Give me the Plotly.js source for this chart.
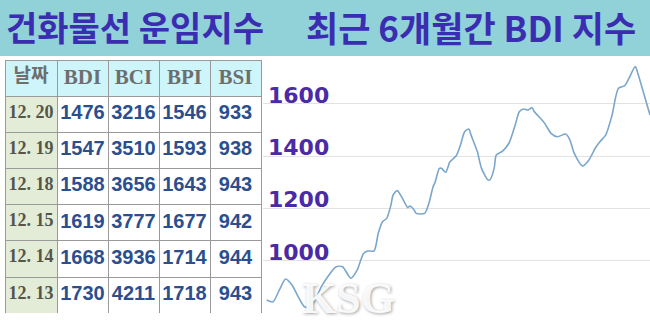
<!DOCTYPE html>
<html>
<head>
<meta charset="utf-8">
<script src="https://cdn.plot.ly/plotly-3.0.1.min.js"></script>
<style>html,body{margin:0;padding:0;background:#fff;}#chart{width:650px;height:320px;}</style>
</head>
<body>
<div id="chart"></div>
<script>
// ---- table data ----
const tableHeader = ["날짜", "BDI", "BCI", "BPI", "BSI"];
const tableDates = ["12. 20", "12. 19", "12. 18", "12. 15", "12. 14", "12. 13"];
const bdiVals = [1476, 1547, 1588, 1619, 1668, 1730];
const bciVals = [3216, 3510, 3656, 3777, 3936, 4211];
const bpiVals = [1546, 1593, 1643, 1677, 1714, 1718];
const bsiVals = [933, 938, 943, 942, 944, 943];

// ---- 6-month BDI line ----
const lineDates = ["2017-06-20","2017-06-23","2017-06-26","2017-06-29","2017-07-02","2017-07-05","2017-07-08","2017-07-11","2017-07-13","2017-07-16",
"2017-07-19","2017-07-23","2017-07-26","2017-07-30","2017-08-02","2017-08-05","2017-08-07","2017-08-10","2017-08-12","2017-08-14",
"2017-08-16","2017-08-18","2017-08-19","2017-08-21","2017-08-23","2017-08-26","2017-08-27","2017-08-29","2017-08-30","2017-09-03",
"2017-09-05","2017-09-07","2017-09-08","2017-09-10","2017-09-11","2017-09-13","2017-09-15","2017-09-18","2017-09-20","2017-09-22",
"2017-09-24","2017-09-25","2017-09-28","2017-09-30","2017-10-03","2017-10-04","2017-10-06","2017-10-07","2017-10-09","2017-10-10",
"2017-10-13","2017-10-16","2017-10-18","2017-10-20","2017-10-22","2017-10-24","2017-10-25","2017-10-28","2017-10-30","2017-11-02",
"2017-11-05","2017-11-09","2017-11-11","2017-11-13","2017-11-17","2017-11-20","2017-11-23","2017-11-25","2017-11-28","2017-12-01",
"2017-12-04","2017-12-07","2017-12-09","2017-12-12","2017-12-13","2017-12-16","2017-12-19"];
const lineValues = [851,844,889,931,908,863,825,823,851,902,
940,978,978,934,966,1029,1038,1039,1107,1150,
1163,1214,1252,1269,1246,1204,1210,1195,1182,1182,
1220,1284,1302,1354,1354,1339,1379,1402,1443,1494,
1504,1482,1418,1354,1310,1310,1354,1405,1415,1420,
1450,1520,1571,1581,1577,1586,1571,1545,1526,1488,
1475,1485,1462,1412,1363,1386,1431,1454,1482,1558,
1660,1670,1698,1743,1723,1641,1558];
const yTicks = [1000, 1200, 1400, 1600];

const titleLeft = "건화물선 운임지수";
const titleRight = "최근 6개월간 BDI 지수";

const W = 650, H = 320;
const px = x => x / W;
const py = y => 1 - y / H;

const nb = v => String(v).replace(/ /g, "\u00a0");

const tableTrace = {
  type: "table",
  domain: { x: [px(5), px(262)], y: [py(313), py(60)] },
  columnwidth: [52, 51, 51, 51, 51],
  header: {
    values: tableHeader.map(nb),
    height: 36,
    align: "center",
    fill: { color: "#cdf5fa" },
    line: { color: "#9a9a9a", width: 1 },
    font: {
      family: ["Noto Sans CJK KR", "Liberation Serif", "Liberation Serif", "Liberation Serif", "Liberation Serif"],
      size: [19, 21, 21, 21, 21],
      color: "#6e6e6e",
      weight: "bold"
    }
  },
  cells: {
    values: [tableDates.map(nb), bdiVals.map(nb), bciVals.map(nb), bpiVals.map(nb), bsiVals.map(nb)],
    height: 36.2,
    align: "center",
    fill: { color: ["#e3ecd7", "#ffffff", "#ffffff", "#ffffff", "#ffffff"] },
    line: { color: "#9a9a9a", width: 1 },
    font: {
      family: ["Liberation Serif", "Liberation Sans", "Liberation Sans", "Liberation Sans", "Liberation Sans"],
      size: [18, 20, 20, 20, 20],
      color: ["#55554a", "#2b4f8e", "#2b4f8e", "#2b4f8e", "#2b4f8e"],
      weight: "bold"
    }
  }
};

const lineTrace = {
  type: "scatter",
  mode: "lines",
  x: lineDates,
  y: lineValues,
  line: { color: "#7aa6cc", width: 1.6, shape: "spline", smoothing: 0.7 },
  hoverinfo: "skip",
  cliponaxis: true
};

const layout = {
  width: W, height: H,
  margin: { l: 0, r: 0, t: 0, b: 0 },
  paper_bgcolor: "#ffffff",
  plot_bgcolor: "rgba(0,0,0,0)",
  showlegend: false,
  xaxis: {
    domain: [px(263), 1],
    type: "date",
    range: ["2017-06-18 06:00", "2017-12-19"],
    visible: false,
    fixedrange: true
  },
  yaxis: {
    domain: [0, py(56)],
    range: [774.5, 1783.4],
    tickvals: yTicks,
    ticktext: yTicks.map(v => String(v)),
    ticklabelposition: "inside",
    ticklabelstandoff: 2,
    ticklabelshift: -9,
    tickfont: { family: "DejaVu Sans", size: 22, color: "#4b2aa6", weight: "bold" },
    showgrid: true,
    gridcolor: "#e2e2e2",
    gridwidth: 1,
    zeroline: false,
    showline: false,
    ticks: "",
    fixedrange: true
  },
  shapes: [
    { type: "rect", xref: "paper", yref: "paper", x0: 0, x1: 1, y0: py(56), y1: 1,
      fillcolor: "#90d2d8", line: { width: 0 }, layer: "below" }
  ],
  annotations: [
    { xref: "paper", yref: "paper", x: px(135), y: py(26), text: "<b>" + titleLeft + "</b>",
      showarrow: false, xanchor: "center", yanchor: "middle",
      font: { family: "Noto Sans CJK KR", size: 34, color: "#3b2db2" } },
    { xref: "paper", yref: "paper", x: px(471), y: py(26), text: "<b>" + titleRight + "</b>",
      showarrow: false, xanchor: "center", yanchor: "middle",
      font: { family: "Noto Sans CJK KR", size: 35, color: "#3b2db2" } },
    { xref: "paper", yref: "paper", x: px(348), y: py(298), text: "<b>KSG</b>",
      showarrow: false, xanchor: "center", yanchor: "middle",
      font: { family: "Liberation Serif", size: 44, color: "rgba(255,255,255,0.92)", shadow: "1px 1px 3px #9a9a9a" } }
  ]
};

Plotly.newPlot("chart", [lineTrace, tableTrace], layout, { staticPlot: true, displayModeBar: false });
</script>
</body>
</html>
